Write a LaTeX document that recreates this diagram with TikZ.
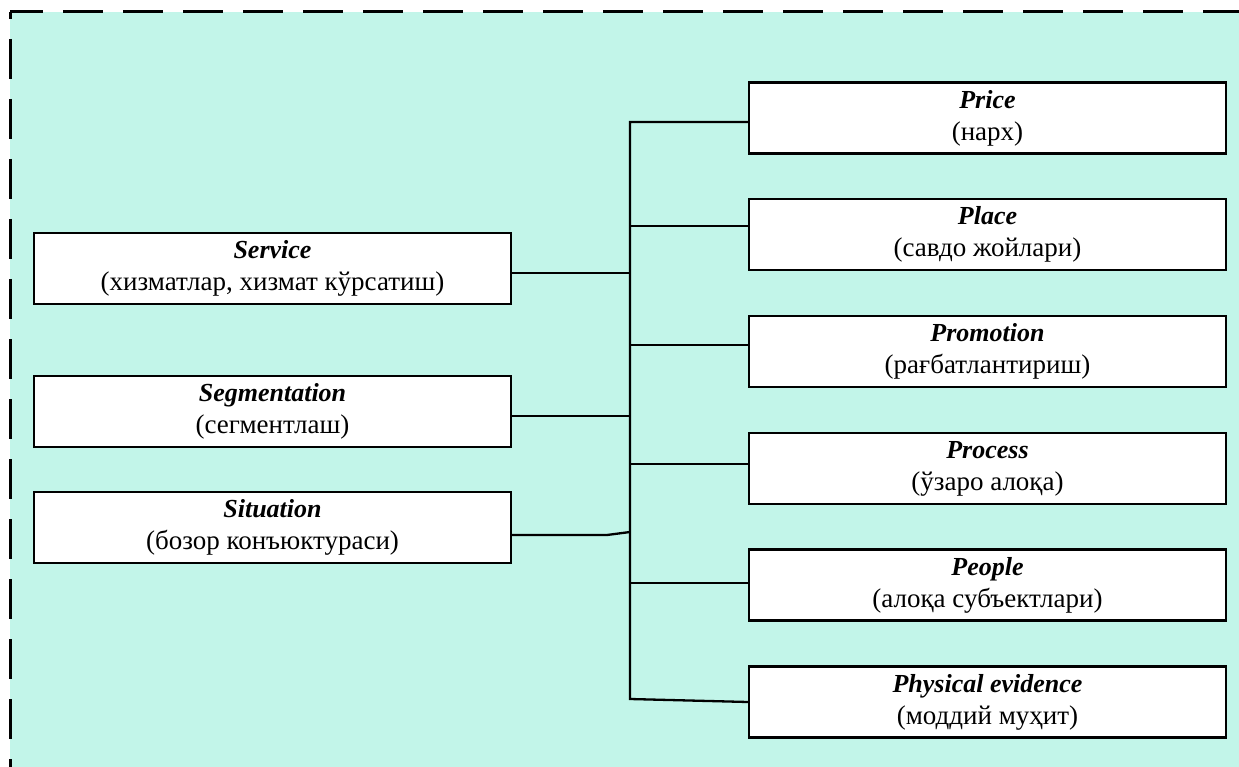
\documentclass[tikz,border=0pt]{standalone}
\usepackage{fontspec}
\setmainfont{Liberation Serif}
\definecolor{mint}{RGB}{194,245,233}
\newcommand{\ttl}[1]{\textbf{\textit{#1}}}
\newcommand{\sub}[1]{{\fontsize{27}{32}\selectfont #1}}
\begin{document}
\begin{tikzpicture}[x=1pt,y=-1pt,
  box/.style={draw=black,line width=2.2pt,fill=white,minimum width=477pt,minimum height=71pt,inner sep=0pt,align=center,font=\fontsize{26}{32}\selectfont},
  thinline/.style={line width=1.3pt},
  thickline/.style={line width=2.3pt},
  border/.style={line width=3pt,dash pattern=on 40pt off 20pt}]
\useasboundingbox (0,0) rectangle (1239,767);
\fill[white] (0,0) rectangle (1239,767);
\fill[mint] (10,12) rectangle (1239,767);
\draw[border,dash phase=7pt] (10,12) -- (1239,12);
\draw[border,dash phase=33pt] (10,12) -- (10,767);
% right boxes
\node[box] (price) at (987.5,118) {\ttl{Price}\\\sub{(нарх)}};
\node[box] (place) at (987.5,234.5) {\ttl{Place}\\\sub{(савдо жойлари)}};
\node[box] (promo) at (987.5,351.5) {\ttl{Promotion}\\\sub{(рағбатлантириш)}};
\node[box] (process) at (987.5,468.5) {\ttl{Process}\\\sub{(ўзаро алоқа)}};
\node[box] (people) at (987.5,585) {\ttl{People}\\\sub{(алоқа субъектлари)}};
\node[box] (phys) at (987.5,702) {\ttl{Physical evidence}\\\sub{(моддий муҳит)}};
% left boxes
\node[box] (service) at (272.5,268.5) {\ttl{Service}\\\sub{(хизматлар, хизмат кўрсатиш)}};
\node[box] (segm) at (272.5,411.5) {\ttl{Segmentation}\\\sub{(сегментлаш)}};
\node[box] (sit) at (272.5,527.5) {\ttl{Situation}\\\sub{(бозор конъюктураси)}};
% bus coordinates
\coordinate (bt) at (630,122);
\coordinate (bb) at (630,699);
\coordinate (b2) at (630,226);
\coordinate (b3) at (630,345);
\coordinate (b4) at (630,464);
\coordinate (b5) at (630,583);
\coordinate (l1) at (630,273);
\coordinate (l2) at (630,416);
\coordinate (l3) at (630,532);
\coordinate (l3k) at (607,535);
% connectors
\draw[thickline] (price.west |- bt) -- (bt) -- (bb) -- (phys.west);
\draw[thinline] (b2) -- (place.west |- b2);
\draw[thinline] (b3) -- (promo.west |- b3);
\draw[thinline] (b4) -- (process.west |- b4);
\draw[thinline] (b5) -- (people.west |- b5);
\draw[thinline] (service.east |- l1) -- (l1);
\draw[thinline] (segm.east |- l2) -- (l2);
\draw[thickline] (sit.east |- l3k) -- (l3k) -- (l3);
\end{tikzpicture}
\end{document}
